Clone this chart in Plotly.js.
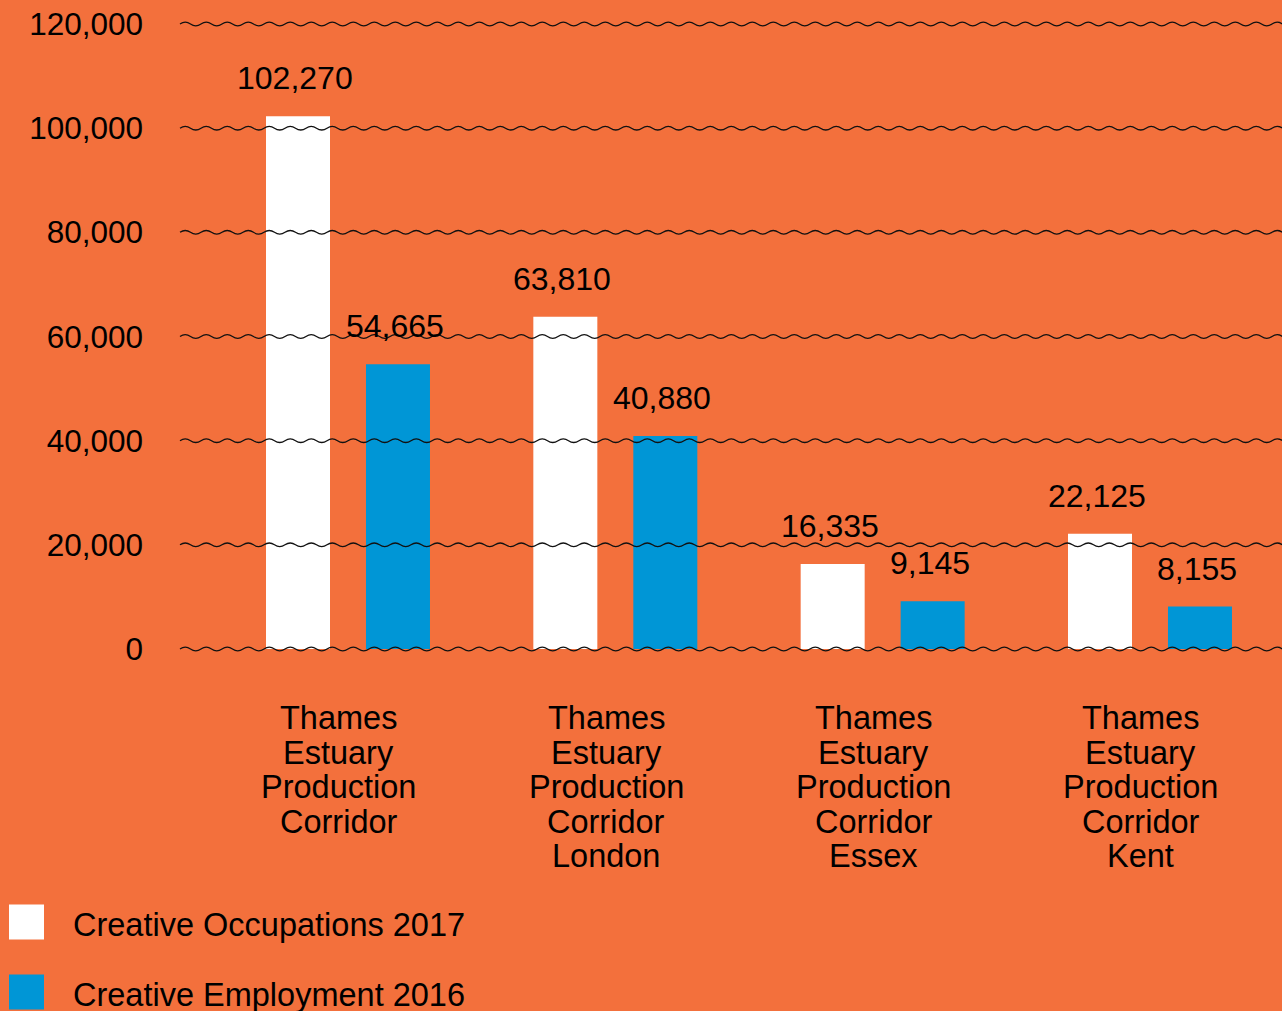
<!DOCTYPE html>
<html>
<head>
<meta charset="utf-8">
<script src="https://cdn.plot.ly/plotly-3.0.1.min.js"></script>
<style>html,body{margin:0;padding:0;background:#F3703C;}</style>
</head>
<body>
<div id="chart" style="width:1282px;height:1011px;"></div>
<script>
// ---- data ----
const categories = [
  "Thames<br>Estuary<br>Production<br>Corridor",
  "Thames<br>Estuary<br>Production<br>Corridor<br>London",
  "Thames<br>Estuary<br>Production<br>Corridor<br>Essex",
  "Thames<br>Estuary<br>Production<br>Corridor<br>Kent"
];
const seriesNames = ["Creative Occupations 2017", "Creative Employment 2016"];
const occupations2017 = [102270, 63810, 16335, 22125];
const employment2016 = [54665, 40880, 9145, 8155];
const yTickVals = [0, 20000, 40000, 60000, 80000, 100000, 120000];

// ---- layout geometry ----
const W = 1282, H = 1011;
const mL = 180, mR = 0, mT = 14, mB = 352;
const plotW = W - mL - mR, plotH = H - mT - mB;
const xRange = [-0.6284, 3.4938];
const yRange = [-1920, 121920];
const pxPerUnitY = plotH / (yRange[1] - yRange[0]);
const xp = X => (X - mL) / plotW;           // pixel -> paper x
const yp = Y => (mT + plotH - Y) / plotH;   // pixel -> paper y

const ORANGE = "#F3703C", BLUE = "#0096D6", WHITE = "#FFFFFF";
const FONT = "Liberation Sans, Arial, Helvetica, sans-serif";
const barWidth = 0.2394, offWhite = -0.3067, offBlue = 0.0673;

const xIdx = categories.map((_, i) => i);
const traces = [
  {type: "bar", x: xIdx, y: occupations2017, name: seriesNames[0],
   marker: {color: WHITE, line: {width: 0}}, width: barWidth, offset: offWhite,
   hoverinfo: "y"},
  {type: "bar", x: xIdx, y: employment2016, name: seriesNames[1],
   marker: {color: BLUE, line: {width: 0}}, width: barWidth, offset: offBlue,
   hoverinfo: "y"}
];

// wavy gridlines
const period = 21 / plotW;          // paper units
const amp = 1.8 / pxPerUnitY;       // data units
const shapes = [];
yTickVals.forEach(v => {
  let d = `M 0,${v}`;
  let x = 0, sgn = 1;
  while (x < 1) {
    const cx = x + period / 4, ex = x + period / 2;
    d += ` Q ${cx},${v + sgn * 2 * amp} ${ex},${v}`;
    x = ex; sgn = -sgn;
  }
  shapes.push({type: "path", xref: "paper", yref: "y", path: d,
    line: {color: "#111111", width: 1.3}, layer: "above"});
});

// legend squares
const legendY = [922, 992];
const legendColors = [WHITE, BLUE];
legendY.forEach((cy, i) => {
  shapes.push({type: "rect", xref: "paper", yref: "paper",
    x0: xp(9), x1: xp(44), y0: yp(cy - 17.5), y1: yp(cy + 17.5),
    fillcolor: legendColors[i], line: {width: 0}});
});

const annotations = [];
// value labels
const fmt = v => v.toLocaleString("en-US");
[[occupations2017, offWhite], [employment2016, offBlue]].forEach(([vals, off]) => {
  vals.forEach((v, i) => {
    annotations.push({x: i + off + barWidth / 2, y: v, xref: "x", yref: "y",
      text: fmt(v), showarrow: false, xanchor: "center", yanchor: "bottom",
      xshift: -3, yshift: 18, font: {family: FONT, size: 32, color: "#000"}});
  });
});
// category labels, one annotation per line for tight line spacing
categories.forEach((c, i) => {
  c.split("<br>").forEach((line, k) => {
    annotations.push({x: i, y: yp(718 + k * 34.6), xref: "x", yref: "paper",
      text: line, showarrow: false, xanchor: "center", yanchor: "middle",
      xshift: -9, font: {family: FONT, size: 32.5, color: "#000"}});
  });
});
// legend text
legendY.forEach((cy, i) => {
  annotations.push({x: xp(71), y: yp(cy + 3), xref: "paper", yref: "paper",
    text: seriesNames[i], showarrow: false, xanchor: "left", yanchor: "middle",
    font: {family: FONT, size: 32.5, color: "#000"}});
});

const layout = {
  width: W, height: H,
  margin: {l: mL, r: mR, t: mT, b: mB, pad: 0},
  paper_bgcolor: ORANGE, plot_bgcolor: ORANGE,
  showlegend: false,
  barmode: "group",
  font: {family: FONT, size: 31, color: "#000"},
  xaxis: {range: xRange, showticklabels: false, showgrid: false,
    zeroline: false, showline: false, ticks: ""},
  yaxis: {range: yRange, tickvals: yTickVals, tickformat: ",d",
    showgrid: false, zeroline: false, showline: false, ticks: "",
    ticklabelstandoff: 36, tickfont: {family: FONT, size: 31.5, color: "#000"}},
  shapes: shapes,
  annotations: annotations
};

Plotly.newPlot("chart", traces, layout, {staticPlot: true, displayModeBar: false});
</script>
</body>
</html>
